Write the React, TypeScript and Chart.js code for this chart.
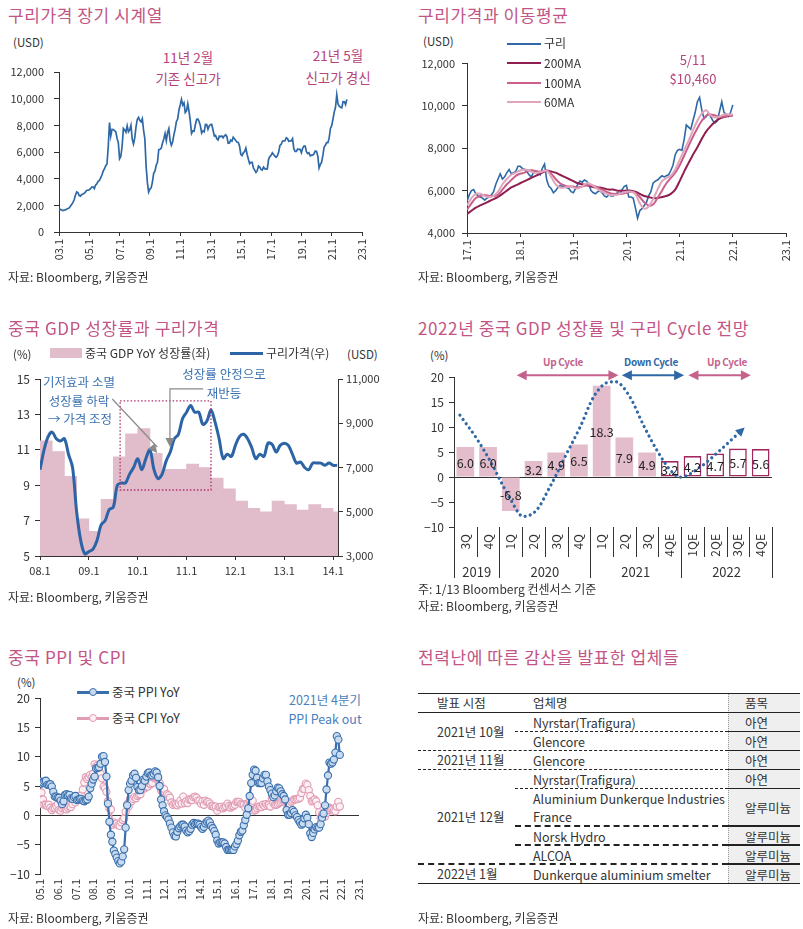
import React, { useEffect, useRef } from "react";
import { Chart, registerables } from "chart.js";
Chart.register(...registerables);

const FONT = "'Noto Sans CJK KR', 'Noto Sans', sans-serif";
Chart.defaults.font.family = FONT;
Chart.defaults.font.size = 11;
Chart.defaults.color = "#333";

const TITLE_COLOR = "#c25585";
const ANNOT_PINK = "#b8437c";
const BLUE = "#2f68a6";
const AXIS = "#333";

// ---------- Panel 1: long-term copper (monthly, 2003.01 ~ 2022.01) ----------
const longStartYear = 2003;
const longCopper = [
  1680, 1700, 1660, 1600, 1640, 1660, 1700, 1760, 1790, 1930, 2060, 2200,
  2420, 2760, 3000, 2950, 2730, 2690, 2810, 2850, 2900, 3010, 3130, 3140,
  3170, 3250, 3380, 3390, 3250, 3520, 3620, 3800, 3860, 4060, 4270, 4580,
  4730, 4980, 5100, 6380, 8200, 7200, 7700, 7690, 7600, 7500, 7030, 6680,
  5500, 5680, 6450, 7770, 7660, 7480, 7970, 7510, 7650, 8000, 6970, 6600,
  7060, 7890, 8440, 8600, 8380, 8260, 8500, 7630, 6990, 4930, 3720, 3000,
  3220, 3310, 3750, 4410, 4570, 5010, 5220, 6170, 6200, 6290, 6680, 6980,
  7390, 6850, 7460, 7750, 6840, 6500, 6750, 7280, 7710, 8290, 8470, 9150,
  9530, 9950, 9530, 9690, 8960, 9080, 9620, 9040, 8310, 7390, 7580, 7560,
  8040, 8440, 8470, 8290, 7960, 7420, 7580, 7510, 8070, 8060, 7710, 7960,
  8050, 8060, 7650, 7200, 7250, 7000, 6900, 7190, 7160, 7200, 7070, 7220,
  7290, 7150, 6650, 6670, 6890, 6820, 7110, 7000, 6870, 6740, 6710, 6450,
  5830, 5730, 5940, 6040, 6290, 5830, 5460, 5130, 5220, 5220, 4800, 4640,
  4470, 4600, 4950, 4870, 4690, 4640, 4860, 4750, 4720, 4730, 5450, 5660,
  5750, 5940, 5820, 5690, 5600, 5720, 5990, 6490, 6580, 6810, 6830, 6840,
  7070, 7000, 6800, 6840, 6830, 7000, 6250, 6050, 6050, 6220, 6190, 6200,
  5940, 6280, 6440, 6440, 6030, 5880, 5940, 5710, 5760, 5760, 5860, 6080,
  6050, 5690, 4800, 5060, 5240, 5740, 6370, 6500, 6700, 6700, 7060, 7770,
  7970, 8470, 8990, 9340, 10300, 9610, 9430, 9360, 9320, 9780, 9770, 9550,
  9950,
];
const longTickValues = [2003, 2005, 2007, 2009, 2011, 2013, 2015, 2017, 2019, 2021, 2023];
const longTickLabels = ["03.1", "05.1", "07.1", "09.1", "11.1", "13.1", "15.1", "17.1", "19.1", "21.1", "23.1"];
const longYTicks = [0, 2000, 4000, 6000, 8000, 10000, 12000];

// ---------- Panel 2: copper & moving averages ----------
const maStartYear = 2017;
const maCopperSemiMonthly = [
  5500, 5800, 6000, 6050, 5850, 5750, 5700, 5650, 5550, 5650, 5700, 5800, 5950, 6300, 6550, 6800, 6550, 6650, 6850, 7000, 6800, 6850, 6900, 7150,
  7150, 7050, 7000, 6900, 6750, 6650, 6850, 6900, 6850, 6750, 7050, 7250, 6500, 6200, 6100, 5900, 6000, 6150, 6250, 6200, 6200, 6150, 6100, 5950,
  5900, 6100, 6300, 6450, 6400, 6500, 6450, 6300, 6000, 5900, 5850, 5950, 6000, 5900, 5750, 5700, 5800, 5750, 5750, 5850, 5900, 5850, 6050, 6200,
  6250, 5700, 5700, 5650, 5200, 4700, 5050, 5150, 5300, 5450, 5750, 5950, 6350, 6450, 6500, 6600, 6700, 6650, 6700, 6750, 6950, 7200, 7700, 7900,
  7950, 7900, 8400, 9100, 9000, 8900, 9300, 9700, 10200, 10400, 9800, 9400, 9500, 9650, 9500, 9300, 9200, 9300, 9750, 10200, 9700, 9600, 9500, 9700,
  10050,
];
const ma200 = [
  4900, 5050, 5200, 5300, 5400, 5500, 5600, 5700, 5850, 6000, 6150, 6250,
  6350, 6450, 6550, 6650, 6750, 6850, 6950, 6900, 6850, 6750, 6650, 6550,
  6450, 6350, 6300, 6250, 6200, 6150, 6150, 6100, 6050, 6050, 6000, 6000,
  6000, 6000, 5950, 5850, 5750, 5700, 5650, 5650, 5700, 5750, 5850, 6050,
  6450, 6900, 7300, 7700, 8050, 8450, 8800, 9050, 9250, 9400, 9480, 9530,
  9550,
];
const ma100 = [
  5100, 5400, 5650, 5750, 5800, 5750, 5750, 5800, 6050, 6300, 6500, 6700,
  6800, 6850, 6950, 6950, 6900, 6900, 6950, 6800, 6550, 6350, 6250, 6200,
  6200, 6150, 6200, 6250, 6250, 6200, 6100, 6000, 5900, 5850, 5850, 5850,
  5900, 5950, 5900, 5700, 5450, 5300, 5350, 5650, 6000, 6350, 6600, 6850,
  7200, 7650, 8100, 8550, 8950, 9300, 9550, 9600, 9550, 9500, 9500, 9550,
  9550,
];
const ma60 = [
  5300, 5650, 5850, 5850, 5750, 5700, 5750, 5950, 6300, 6550, 6750, 6850,
  6950, 7000, 6950, 6850, 6850, 6900, 6950, 6650, 6300, 6150, 6150, 6200,
  6150, 6100, 6200, 6350, 6300, 6150, 6000, 5900, 5800, 5800, 5800, 5900,
  5950, 5950, 5850, 5400, 5150, 5250, 5600, 6050, 6450, 6600, 6700, 7000,
  7450, 7900, 8350, 8850, 9300, 9650, 9800, 9550, 9450, 9500, 9600, 9600,
  9600,
];
const maTickValues = [2017, 2018, 2019, 2020, 2021, 2022, 2023];
const maTickLabels = ["17.1", "18.1", "19.1", "20.1", "21.1", "22.1", "23.1"];
const maYTicks = [4000, 6000, 8000, 10000, 12000];

// ---------- Panel 3: China GDP vs copper ----------
const gdpCuStartYear = 2008;
const chinaGdpQuarterly = [11.5, 10.9, 9.5, 7.1, 6.4, 8.2, 10.6, 11.9, 12.2, 10.8, 9.9, 9.9, 10.2, 10.0, 9.4, 8.8, 8.1, 7.7, 7.5, 8.1, 7.9, 7.6, 7.9, 7.7, 7.5];
const copperMonthly0814 = [
  6900, 7800, 8400, 8600, 8300, 8200, 8300, 7600, 7000, 5000, 3700, 3100,
  3200, 3300, 3700, 4400, 4600, 5100, 5200, 6200, 6300, 6300, 6700, 7000,
  7400, 6900, 7400, 7800, 6900, 6500, 6700, 7300, 7700, 8300, 8500, 9200,
  9500, 9800, 9500, 9500, 8950, 9100, 9600, 9050, 8300, 7400, 7600, 7500,
  8000, 8400, 8500, 8300, 7900, 7400, 7600, 7500, 8100, 8050, 7700, 8000,
  8100, 8000, 7600, 7200, 7250, 7000, 6900, 7200, 7200, 7200, 7100, 7200,
  7100, 7100,
];
const gdpCuTickValues = [2008, 2009, 2010, 2011, 2012, 2013, 2014];
const gdpCuTickLabels = ["08.1", "09.1", "10.1", "11.1", "12.1", "13.1", "14.1"];
const gdpLeftTicks = [5, 7, 9, 11, 13, 15];
const gdpRightTicks = [3000, 5000, 7000, 9000, 11000];
// annotations (data units)
const boxX = [2009.64, 2011.5];
const boxY = [13.76, 8.73];
const arrow1X = [2009.48, 2010.4];
const arrow1Y = [13.87, 10.82];
const arrow2X = [2011.34, 2010.66, 2010.66];
const arrow2Y = [14.44, 14.44, 11.16];

// ---------- Panel 4: 2022 GDP & copper cycle ----------
const gdpQuarters = ["3Q", "4Q", "1Q", "2Q", "3Q", "4Q", "1Q", "2Q", "3Q", "4QE", "1QE", "2QE", "3QE", "4QE"];
const gdpForecast = [6.0, 6.0, -6.8, 3.2, 4.9, 6.5, 18.3, 7.9, 4.9, 3.2, 4.2, 4.7, 5.7, 5.6];
const gdpEstimateFrom = 9;
const gdpYears = ["2019", "2020", "2021", "2022"];
const gdpYearSpans = [2, 4, 4, 4];
const cycleX = [-0.24, 0.5, 1.23, 1.45, 1.97, 2.55, 3.14, 3.73, 3.95, 4.46, 5.05, 5.64, 6.23, 6.6, 7.25, 7.84, 8.43, 9.02, 9.46, 10.34, 11.22, 12.17];
const cycleY = [12.4, 7.7, 2.1, 0.1, -4.3, -7.9, -6.6, -1.9, 0.0, 4.7, 10.0, 16.0, 18.9, 19.1, 16.0, 10.4, 5.4, 1.4, 0.0, 2.0, 5.4, 9.4];
const cycleArrows = [
  { from: 2.26, to: 6.74, color: "#c4628c" },
  { from: 6.89, to: 9.63, color: "#2f68a6" },
  { from: 9.82, to: 12.57, color: "#c4628c" },
];
const cycleArrowLevel = 20.4;
const gdpYTicks = [-10, -5, 0, 5, 10, 15, 20];

// ---------- Panel 5: China PPI & CPI (monthly 2005.01 ~ 2021.12) ----------
const priceStartYear = 2005;
const chinaPpi = [
  5.8, 5.4, 5.6, 5.8, 5.9, 5.2, 5.2, 5.3, 4.9, 4.0, 3.2, 3.2,
  3.0, 3.0, 2.5, 1.9, 2.4, 3.5, 3.6, 3.4, 3.5, 2.9, 2.8, 3.1,
  3.3, 2.6, 2.7, 2.8, 2.8, 2.5, 2.4, 2.6, 2.7, 3.2, 4.6, 5.4,
  6.1, 6.6, 8.0, 8.1, 8.2, 8.8, 10.0, 10.1, 9.1, 6.6, 2.0, -1.1,
  -3.3, -4.5, -6.0, -6.6, -7.2, -7.8, -8.2, -7.9, -7.0, -5.8, -2.1, 1.7,
  4.3, 5.4, 5.9, 6.8, 7.1, 6.4, 4.8, 4.3, 4.3, 5.0, 6.1, 5.9,
  6.6, 7.2, 7.3, 6.8, 6.8, 7.1, 7.5, 7.3, 6.5, 5.0, 2.7, 1.7,
  0.7, 0.0, -0.3, -0.7, -1.4, -2.1, -2.9, -3.5, -3.6, -2.8, -2.2, -1.9,
  -1.6, -1.6, -1.9, -2.6, -2.9, -2.7, -2.3, -1.6, -1.3, -1.5, -1.4, -1.4,
  -1.6, -2.0, -2.3, -2.0, -1.4, -1.1, -0.9, -1.2, -1.8, -2.2, -2.7, -3.3,
  -4.3, -4.8, -4.6, -4.6, -4.6, -4.8, -5.4, -5.9, -5.9, -5.9, -5.9, -5.9,
  -5.3, -4.9, -4.3, -3.4, -2.8, -2.6, -1.7, -0.8, 0.1, 1.2, 3.3, 5.5,
  6.9, 7.8, 7.6, 6.4, 5.5, 5.5, 5.5, 6.3, 6.9, 6.9, 5.8, 4.9,
  4.3, 3.7, 3.1, 3.4, 4.1, 4.7, 4.6, 4.1, 3.6, 3.3, 2.7, 0.9,
  0.1, 0.1, 0.4, 0.9, 0.6, 0.0, -0.3, -0.8, -1.2, -1.6, -1.4, -0.5,
  0.1, -0.4, -1.5, -3.1, -3.7, -3.0, -2.4, -2.0, -2.1, -2.1, -1.5, -0.4,
  0.3, 1.7, 4.4, 6.8, 9.0, 8.8, 9.0, 9.5, 10.7, 13.5, 12.9, 10.3,
];
const chinaCpi = [
  1.9, 3.9, 2.7, 1.8, 1.8, 1.6, 1.8, 1.3, 0.9, 1.2, 1.3, 1.6,
  1.9, 0.9, 0.8, 1.2, 1.4, 1.5, 1.0, 1.3, 1.5, 1.4, 1.9, 2.8,
  2.2, 2.7, 3.3, 3.0, 3.4, 4.4, 5.6, 6.5, 6.2, 6.5, 6.9, 6.5,
  7.1, 8.7, 8.3, 8.5, 7.7, 7.1, 6.3, 4.9, 4.6, 4.0, 2.4, 1.2,
  1.0, -1.6, -1.2, -1.5, -1.4, -1.7, -1.8, -1.2, -0.8, -0.5, 0.6, 1.9,
  1.5, 2.7, 2.4, 2.8, 3.1, 2.9, 3.3, 3.5, 3.6, 4.4, 5.1, 4.6,
  4.9, 4.9, 5.4, 5.3, 5.5, 6.4, 6.5, 6.2, 6.1, 5.5, 4.2, 4.1,
  4.5, 3.2, 3.6, 3.4, 3.0, 2.2, 1.8, 2.0, 1.9, 1.7, 2.0, 2.5,
  2.0, 3.2, 2.1, 2.4, 2.1, 2.7, 2.7, 2.6, 3.1, 3.2, 3.0, 2.5,
  2.5, 2.0, 2.4, 1.8, 2.5, 2.3, 2.3, 2.0, 1.6, 1.6, 1.4, 1.5,
  0.8, 1.4, 1.4, 1.5, 1.2, 1.4, 1.6, 2.0, 1.6, 1.3, 1.5, 1.6,
  1.8, 2.3, 2.3, 2.3, 2.0, 1.9, 1.8, 1.3, 1.9, 2.1, 2.3, 2.1,
  2.5, 0.8, 0.9, 1.2, 1.5, 1.5, 1.4, 1.8, 1.6, 1.9, 1.7, 1.8,
  1.5, 2.9, 2.1, 1.8, 1.8, 1.9, 2.1, 2.3, 2.5, 2.5, 2.2, 1.9,
  1.7, 1.5, 2.3, 2.5, 2.7, 2.7, 2.8, 2.8, 3.0, 3.8, 4.5, 4.5,
  5.4, 5.2, 4.3, 3.3, 2.4, 2.5, 2.7, 2.4, 1.7, 0.5, -0.5, 0.2,
  -0.3, -0.2, 0.4, 0.9, 1.3, 1.1, 1.0, 0.8, 0.7, 1.5, 2.3, 1.5,
];
const priceTickValues = [2005, 2006, 2007, 2008, 2009, 2010, 2011, 2012, 2013, 2014, 2015, 2016, 2017, 2018, 2019, 2020, 2021, 2022, 2023];
const priceTickLabels = ["05.1", "06.1", "07.1", "08.1", "09.1", "10.1", "11.1", "12.1", "13.1", "14.1", "15.1", "16.1", "17.1", "18.1", "19.1", "20.1", "21.1", "22.1", "23.1"];
const priceYTicks = [-10, -5, 0, 5, 10, 15, 20];

// ---------- Panel 6: table ----------
const tableRows = [
  { period: "2021년 10월", company: "Nyrstar(Trafigura)", item: "아연" },
  { period: "", company: "Glencore", item: "아연" },
  { period: "2021년 11월", company: "Glencore", item: "아연" },
  { period: "2021년 12월", company: "Nyrstar(Trafigura)", item: "아연" },
  { period: "", company: "Aluminium Dunkerque Industries|France", item: "알루미늄" },
  { period: "", company: "Norsk Hydro", item: "알루미늄" },
  { period: "", company: "ALCOA", item: "알루미늄" },
  { period: "2022년 1월", company: "Dunkerque aluminium smelter", item: "알루미늄" },
];

// ---------- helpers ----------
const fmtNum = (v: number) => Number(v).toLocaleString("en-US");
const fmtMinus = (v: number) => (v < 0 ? "−" + Math.abs(v) : String(v));
const monthly = (start: number, arr: number[], perYear = 12) => arr.map((v, i) => ({ x: start + i / perYear, y: v }));
const setTicks = (vals: number[]) => (s: any) => {
  s.ticks = vals.map((v) => ({ value: v }));
};
const basePlugins = { legend: { display: false }, tooltip: { enabled: false } };

function arrowHead(ctx: CanvasRenderingContext2D, fx: number, fy: number, tx: number, ty: number, len: number, hw: number, color: string) {
  const a = Math.atan2(ty - fy, tx - fx);
  ctx.save();
  ctx.fillStyle = color;
  ctx.beginPath();
  ctx.moveTo(tx, ty);
  ctx.lineTo(tx - len * Math.cos(a) + hw * Math.sin(a), ty - len * Math.sin(a) - hw * Math.cos(a));
  ctx.lineTo(tx - len * Math.cos(a) - hw * Math.sin(a), ty - len * Math.sin(a) + hw * Math.cos(a));
  ctx.closePath();
  ctx.fill();
  ctx.restore();
}

function makeChart1(): any {
  return {
    type: "line",
    data: { datasets: [{ data: monthly(longStartYear, longCopper), borderColor: BLUE, borderWidth: 1.7, pointRadius: 0, tension: 0 }] },
    options: {
      animation: false,
      responsive: false,
      layout: { padding: { top: 17, right: 38, left: 0, bottom: 0 } },
      plugins: basePlugins,
      scales: {
        x: {
          type: "linear", min: 2003, max: 2023,
          afterBuildTicks: setTicks(longTickValues),
          afterFit: (s: any) => { s.height = 38; },
          ticks: { autoSkip: false, minRotation: 90, maxRotation: 90, padding: 3, callback: (_v: any, i: number) => longTickLabels[i] },
          grid: { drawOnChartArea: false, tickLength: 4, color: AXIS },
          border: { color: AXIS },
        },
        y: {
          min: 0, max: 12000,
          afterBuildTicks: setTicks(longYTicks),
          afterFit: (s: any) => { s.width = 59; },
          ticks: { padding: 10, callback: (v: any) => fmtNum(v) },
          grid: { drawOnChartArea: false, tickLength: 5, color: AXIS },
          border: { color: AXIS },
        },
      },
    },
  };
}

function makeChart2(): any {
  const line = (data: any, color: string, w: number) => ({ data, borderColor: color, borderWidth: w, pointRadius: 0, tension: 0.3 });
  return {
    type: "line",
    data: {
      datasets: [
        line(monthly(maStartYear, ma60), "#dfa5bc", 2),
        line(monthly(maStartYear, ma100), "#cb5f8b", 2),
        line(monthly(maStartYear, ma200), "#8e1f50", 2),
        { ...line(monthly(maStartYear, maCopperSemiMonthly, 24), BLUE, 1.6), tension: 0 },
      ],
    },
    options: {
      animation: false,
      responsive: false,
      layout: { padding: { top: 11, right: 17, left: 0, bottom: 0 } },
      plugins: basePlugins,
      scales: {
        x: {
          type: "linear", min: 2017, max: 2023,
          afterBuildTicks: setTicks(maTickValues),
          afterFit: (s: any) => { s.height = 37; },
          ticks: { autoSkip: false, minRotation: 90, maxRotation: 90, padding: 3, callback: (_v: any, i: number) => maTickLabels[i] },
          grid: { drawOnChartArea: false, tickLength: 4, color: AXIS },
          border: { color: AXIS },
        },
        y: {
          min: 4000, max: 12000,
          afterBuildTicks: setTicks(maYTicks),
          afterFit: (s: any) => { s.width = 67; },
          ticks: { padding: 7, callback: (v: any) => fmtNum(v) },
          grid: { drawOnChartArea: false, tickLength: 5, color: AXIS },
          border: { color: AXIS },
        },
      },
    },
  };
}

const gdpCuPlugin = {
  id: "gdpCuDecor",
  afterDatasetsDraw(chart: any) {
    const { ctx, scales } = chart;
    const x = scales.x, y = scales.y;
    ctx.save();
    ctx.strokeStyle = "#b0306c";
    ctx.lineWidth = 1.3;
    ctx.setLineDash([1.5, 2]);
    const bx0 = x.getPixelForValue(boxX[0]), bx1 = x.getPixelForValue(boxX[1]);
    const by0 = y.getPixelForValue(boxY[0]), by1 = y.getPixelForValue(boxY[1]);
    ctx.strokeRect(bx0, by0, bx1 - bx0, by1 - by0);
    ctx.setLineDash([]);
    const gray = "#8a8a8a";
    ctx.strokeStyle = gray;
    ctx.lineWidth = 1.2;
    const p1 = arrow1X.map((v, i) => [x.getPixelForValue(v), y.getPixelForValue(arrow1Y[i])]);
    ctx.beginPath();
    ctx.moveTo(p1[0][0], p1[0][1]);
    ctx.lineTo(p1[1][0], p1[1][1] - 6);
    ctx.stroke();
    arrowHead(ctx, p1[0][0], p1[0][1], p1[1][0], p1[1][1], 9, 4.5, gray);
    const p2 = arrow2X.map((v, i) => [x.getPixelForValue(v), y.getPixelForValue(arrow2Y[i])]);
    ctx.beginPath();
    ctx.moveTo(p2[0][0], p2[0][1]);
    ctx.lineTo(p2[1][0], p2[1][1]);
    ctx.lineTo(p2[2][0], p2[2][1] - 6);
    ctx.stroke();
    arrowHead(ctx, p2[1][0], p2[1][1], p2[2][0], p2[2][1], 9, 4.5, gray);
    ctx.restore();
  },
};

function makeChart3(): any {
  return {
    type: "bar",
    data: {
      datasets: [
        {
          type: "line", data: monthly(gdpCuStartYear, copperMonthly0814), yAxisID: "y1",
          borderColor: "#2c64a6", borderWidth: 3, pointRadius: 0, tension: 0.35, order: 0,
        },
        {
          type: "bar", data: chinaGdpQuarterly.map((v, i) => ({ x: gdpCuStartYear + 0.125 + i * 0.25, y: v })), yAxisID: "y",
          backgroundColor: "#e1bccb", barPercentage: 1, categoryPercentage: 1, grouped: false, order: 1,
        },
      ],
    },
    options: {
      animation: false,
      responsive: false,
      layout: { padding: { top: 14, right: 0, left: 0, bottom: 0 } },
      plugins: basePlugins,
      scales: {
        x: {
          type: "linear", min: 2008, max: 2014.1, offset: false,
          afterBuildTicks: setTicks(gdpCuTickValues),
          afterFit: (s: any) => { s.height = 29; },
          ticks: { autoSkip: false, maxRotation: 0, minRotation: 0, padding: 4, callback: (_v: any, i: number) => gdpCuTickLabels[i] },
          grid: { drawOnChartArea: false, tickLength: 4, color: AXIS, offset: false },
          border: { color: AXIS },
        },
        y: {
          min: 5, max: 15, position: "left",
          afterBuildTicks: setTicks(gdpLeftTicks),
          afterFit: (s: any) => { s.width = 40; },
          ticks: { padding: 5, font: { size: 12 } },
          grid: { drawOnChartArea: false, tickLength: 5, color: AXIS },
          border: { color: AXIS },
        },
        y1: {
          min: 3000, max: 11000, position: "right",
          afterBuildTicks: setTicks(gdpRightTicks),
          afterFit: (s: any) => { s.width = 62; },
          ticks: { padding: 3, callback: (v: any) => fmtNum(v) },
          grid: { drawOnChartArea: false, tickLength: 5, color: AXIS },
          border: { color: AXIS },
        },
      },
    },
    plugins: [gdpCuPlugin],
  };
}

const cyclePlugin = {
  id: "cycleDecor",
  afterDatasetsDraw(chart: any) {
    const { ctx, chartArea: ca, scales } = chart;
    const x = scales.x, y = scales.y, x2 = scales.x2;
    ctx.save();
    const n = cycleX.length;
    const ax = x2.getPixelForValue(cycleX[n - 1]), ay = y.getPixelForValue(cycleY[n - 1]);
    const bx = x2.getPixelForValue(cycleX[n - 2]), by = y.getPixelForValue(cycleY[n - 2]);
    const ang = Math.atan2(ay - by, ax - bx);
    arrowHead(ctx, bx, by, ax + 4 * Math.cos(ang), ay + 4 * Math.sin(ang), 9, 4.5, BLUE);
    const meta = chart.getDatasetMeta(1);
    ctx.font = `12.5px ${FONT}`;
    ctx.fillStyle = "#222";
    ctx.textAlign = "center";
    ctx.textBaseline = "middle";
    meta.data.forEach((bar: any, i: number) => {
      ctx.fillText(gdpForecast[i].toFixed(1), bar.x, (bar.y + bar.base) / 2 + 1);
    });
    const yy = y.getPixelForValue(cycleArrowLevel);
    cycleArrows.forEach((a) => {
      const p0 = x.getPixelForValue(a.from), p1 = x.getPixelForValue(a.to);
      ctx.strokeStyle = a.color;
      ctx.lineWidth = 2;
      ctx.beginPath();
      ctx.moveTo(p0 + 6, yy);
      ctx.lineTo(p1 - 6, yy);
      ctx.stroke();
      arrowHead(ctx, p1, yy, p0, yy, 10, 5, a.color);
      arrowHead(ctx, p0, yy, p1, yy, 10, 5, a.color);
    });
    ctx.strokeStyle = AXIS;
    ctx.lineWidth = 1;
    const groupBounds = [0];
    gdpYearSpans.reduce((acc, s) => { groupBounds.push(acc + s); return acc + s; }, 0);
    for (let b = 0; b <= gdpQuarters.length; b++) {
      const px = Math.round(x.getPixelForValue(b - 0.5)) + 0.5;
      const long = groupBounds.includes(b);
      ctx.beginPath();
      ctx.moveTo(px, ca.bottom);
      ctx.lineTo(px, ca.bottom + (long ? 51 : 30));
      ctx.stroke();
    }
    ctx.font = `13px ${FONT}`;
    ctx.fillStyle = "#333";
    let start = 0;
    gdpYears.forEach((yr, k) => {
      const c = start + gdpYearSpans[k] / 2 - 0.5;
      ctx.fillText(yr, x.getPixelForValue(c), ca.bottom + 45);
      start += gdpYearSpans[k];
    });
    ctx.restore();
  },
};

function makeChart4(): any {
  return {
    type: "bar",
    data: {
      labels: gdpQuarters,
      datasets: [
        {
          type: "line", xAxisID: "x2", data: cycleX.map((v, i) => ({ x: v, y: cycleY[i] })),
          borderColor: BLUE, borderWidth: 3.2, borderDash: [0.01, 5.3], borderCapStyle: "round",
          pointRadius: 0, tension: 0.4, cubicInterpolationMode: "monotone", order: 0,
        },
        {
          type: "bar", data: gdpForecast,
          backgroundColor: gdpForecast.map((_, i) => (i >= gdpEstimateFrom ? "#ffffff" : "#e3bdcc")),
          borderColor: gdpForecast.map((_, i) => (i >= gdpEstimateFrom ? "#a1285d" : "rgba(0,0,0,0)")),
          borderWidth: gdpForecast.map((_, i) => (i >= gdpEstimateFrom ? 1.6 : 0)),
          borderSkipped: false, barPercentage: 0.78, categoryPercentage: 1, grouped: false, order: 1,
        },
      ],
    },
    options: {
      animation: false,
      responsive: false,
      layout: { padding: { top: 12, right: 31, left: 0, bottom: 0 } },
      plugins: basePlugins,
      scales: {
        x: {
          type: "category", offset: true,
          afterFit: (s: any) => { s.height = 58; },
          ticks: { autoSkip: false, minRotation: 90, maxRotation: 90, padding: 7, font: { size: 12 } },
          grid: { display: false, drawTicks: false },
          border: { display: false },
        },
        x2: { type: "linear", min: -0.5, max: 13.5, offset: false, display: false, grid: { offset: false } },
        y: {
          min: -10, max: 20,
          afterBuildTicks: setTicks(gdpYTicks),
          afterFit: (s: any) => { s.width = 54; },
          ticks: { padding: 5, font: { size: 12 }, callback: (v: any) => fmtMinus(v) },
          grid: { drawOnChartArea: true, tickLength: 5, tickColor: AXIS, color: (c: any) => (c.tick && c.tick.value === 0 ? AXIS : "rgba(0,0,0,0)") },
          border: { color: AXIS },
        },
      },
    },
    plugins: [cyclePlugin],
  };
}

function makeChart5(): any {
  return {
    type: "line",
    data: {
      datasets: [
        {
          data: monthly(priceStartYear, chinaPpi), borderColor: "#3a6fad", borderWidth: 2.2,
          pointRadius: 3.6, pointBackgroundColor: "#c8dbef", pointBorderColor: "#3a6fad", pointBorderWidth: 1.1, tension: 0,
        },
        {
          data: monthly(priceStartYear, chinaCpi), borderColor: "#e09cb4", borderWidth: 2,
          pointRadius: 3.6, pointBackgroundColor: "#fcf0f4", pointBorderColor: "#e09cb4", pointBorderWidth: 1.1, tension: 0,
        },
      ],
    },
    options: {
      animation: false,
      responsive: false,
      layout: { padding: { top: 18, right: 41, left: 0, bottom: 0 } },
      plugins: basePlugins,
      scales: {
        x: {
          type: "linear", min: 2005, max: 2023,
          afterBuildTicks: setTicks(priceTickValues),
          afterFit: (s: any) => { s.height = 36; },
          ticks: { autoSkip: false, minRotation: 90, maxRotation: 90, padding: 5, callback: (_v: any, i: number) => priceTickLabels[i] },
          grid: { display: false, drawTicks: false },
          border: { display: false },
        },
        y: {
          min: -10, max: 20,
          afterBuildTicks: setTicks(priceYTicks),
          afterFit: (s: any) => { s.width = 40; },
          ticks: { padding: 5, font: { size: 12 }, callback: (v: any) => fmtMinus(v) },
          grid: { drawOnChartArea: true, tickLength: 5, tickColor: AXIS, color: (c: any) => (c.tick && c.tick.value === 0 ? AXIS : "rgba(0,0,0,0)") },
          border: { color: AXIS },
        },
      },
    },
  };
}

function ChartBox({ left, top, width, height, make }: any) {
  const ref = useRef<HTMLCanvasElement>(null);
  useEffect(() => {
    const chart = new Chart(ref.current as HTMLCanvasElement, make());
    return () => chart.destroy();
  }, []);
  return <canvas ref={ref} width={width} height={height} style={{ position: "absolute", left, top, width, height }} />;
}

function Txt({ x, y, size = 12, color = "#333", align = "left", weight = 400, ls = 0, children }: any) {
  const tx = align === "center" ? "-50%" : align === "right" ? "-100%" : "0";
  return (
    <div
      style={{
        position: "absolute", left: x, top: y, transform: `translate(${tx}, -50%)`, fontSize: size, color,
        fontWeight: weight, letterSpacing: ls, whiteSpace: "nowrap", lineHeight: 1.2,
      }}
    >
      {children}
    </div>
  );
}

function HLine({ x1, x2, y, w = 1, dashed = false, color = "#222" }: any) {
  return (
    <div style={{ position: "absolute", left: x1, top: y - w / 2, width: x2 - x1, height: 0, borderTop: `${w}px ${dashed ? "dashed" : "solid"} ${color}` }} />
  );
}

function Title({ x, y, children }: any) {
  return <Txt x={x} y={y} size={17} color={TITLE_COLOR} ls={0.6}>{children}</Txt>;
}

const SOURCE = "자료: Bloomberg, 키움증권";

function LegendLine({ x, y, w, color, thick = 2.5 }: any) {
  return <div style={{ position: "absolute", left: x, top: y - thick / 2, width: w, height: thick, background: color }} />;
}

function LegendMarker({ x, y, w, color, fill }: any) {
  return (
    <>
      <div style={{ position: "absolute", left: x, top: y - 1.5, width: w, height: 3, background: color }} />
      <div style={{ position: "absolute", left: x + w / 2 - 4.5, top: y - 4.5, width: 6.8, height: 6.8, borderRadius: "50%", border: `1.1px solid ${color}`, background: fill }} />
    </>
  );
}

function Table() {
  const L = 418, R = 800, C2 = 515, C3 = 728;
  const rowY = [712, 731, 750, 769, 788, 826, 845, 864, 883];
  const rowLines = [
    { y: 731, x1: C2, w: 1 },
    { y: 750, x1: L, w: 1 },
    { y: 769, x1: L, w: 1 },
    { y: 788, x1: C2, w: 1 },
    { y: 826, x1: C2, w: 2 },
    { y: 845, x1: C2, w: 2 },
    { y: 864, x1: L, w: 2 },
  ];
  const periods = [
    { t: "2021년 10월", y: 731 },
    { t: "2021년 11월", y: 759 },
    { t: "2021년 12월", y: 816 },
    { t: "2022년 1월", y: 873 },
  ];
  return (
    <>
      <div style={{ position: "absolute", left: C3, top: 693, width: R - C3, height: 883 - 693, background: "#efefef" }} />
      <div style={{ position: "absolute", left: C3, top: 693, width: 0, height: 883 - 693, borderLeft: "1px dotted #999" }} />
      <HLine x1={L} x2={R} y={693} />
      <HLine x1={L} x2={R} y={712} />
      <HLine x1={L} x2={R} y={883} />
      {rowLines.map((l, i) => (
        <React.Fragment key={i}>
          <HLine x1={l.x1} x2={C3} y={l.y} w={l.w} dashed />
          <HLine x1={C3} x2={R} y={l.y} w={l.w} />
        </React.Fragment>
      ))}
      <Txt x={437} y={702} size={12.5}>발표 시점</Txt>
      <Txt x={533} y={702} size={12.5}>업체명</Txt>
      <Txt x={745} y={702} size={12.5}>품목</Txt>
      {periods.map((p, i) => (
        <Txt key={i} x={437} y={p.y} size={12.5}>{p.t}</Txt>
      ))}
      {tableRows.map((r, i) => {
        const cy = (rowY[i] + rowY[i + 1]) / 2;
        const parts = r.company.split("|");
        return (
          <React.Fragment key={i}>
            {parts.length === 1 ? (
              <Txt x={533} y={cy} size={12.5}>{parts[0]}</Txt>
            ) : (
              <>
                <Txt x={533} y={cy - 9} size={12.5}>{parts[0]}</Txt>
                <Txt x={533} y={cy + 9} size={12.5}>{parts[1]}</Txt>
              </>
            )}
            <Txt x={745} y={cy} size={12.5}>{r.item}</Txt>
          </React.Fragment>
        );
      })}
    </>
  );
}

export default function App() {
  return (
    <div style={{ position: "absolute", left: 0, top: 0, width: 803, height: 929, background: "#fff", fontFamily: FONT, color: "#333", overflow: "hidden" }}>
      {/* Panel 1 */}
      <Title x={8} y={15}>구리가격 장기 시계열</Title>
      <Txt x={13} y={43} size={11.5}>(USD)</Txt>
      <Txt x={188} y={57} size={13.5} color={ANNOT_PINK} align="center">11년 2월</Txt>
      <Txt x={188} y={78} size={13.5} color={ANNOT_PINK} align="center">기존 신고가</Txt>
      <Txt x={338} y={55} size={13.5} color={ANNOT_PINK} align="center">21년 5월</Txt>
      <Txt x={338} y={77} size={13.5} color={ANNOT_PINK} align="center">신고가 경신</Txt>
      <ChartBox left={0} top={55} width={400} height={215} make={makeChart1} />
      <Txt x={8} y={277} size={12}>{SOURCE}</Txt>

      {/* Panel 2 */}
      <Title x={418} y={15}>구리가격과 이동평균</Title>
      <Txt x={423} y={42} size={11.5}>(USD)</Txt>
      <ChartBox left={400} top={50} width={403} height={220} make={makeChart2} />
      <LegendLine x={507} y={44} w={34} color={BLUE} />
      <LegendLine x={507} y={63} w={34} color="#8e1f50" />
      <LegendLine x={507} y={83} w={34} color="#cb5f8b" />
      <LegendLine x={507} y={102} w={34} color="#dfa5bc" />
      <Txt x={544} y={43} size={12}>구리</Txt>
      <Txt x={544} y={63} size={12}>200MA</Txt>
      <Txt x={544} y={83} size={12}>100MA</Txt>
      <Txt x={544} y={102} size={12}>60MA</Txt>
      <Txt x={693} y={60} size={13} color={ANNOT_PINK} align="center">5/11</Txt>
      <Txt x={693} y={79} size={13} color={ANNOT_PINK} align="center">$10,460</Txt>
      <Txt x={418} y={277} size={12}>{SOURCE}</Txt>

      {/* Panel 3 */}
      <Title x={8} y={328}>중국 GDP 성장률과 구리가격</Title>
      <Txt x={13} y={355} size={11.5}>(%)</Txt>
      <Txt x={347} y={355} size={11.5}>(USD)</Txt>
      <div style={{ position: "absolute", left: 50, top: 348, width: 32, height: 10, background: "#e1bccb" }} />
      <Txt x={85} y={353} size={12}>중국 GDP YoY 성장률(좌)</Txt>
      <LegendLine x={230} y={353} w={33} color="#2c64a6" thick={3} />
      <Txt x={266} y={353} size={12}>구리가격(우)</Txt>
      <ChartBox left={0} top={365} width={400} height={220} make={makeChart3} />
      <Txt x={79} y={381} size={12.5} color="#3b73b1" align="center">기저효과 소멸</Txt>
      <Txt x={79} y={400} size={12.5} color="#3b73b1" align="center">성장률 하락</Txt>
      <Txt x={80} y={418} size={12.5} color="#3b73b1" align="center">→ 가격 조정</Txt>
      <Txt x={224} y={373} size={12.5} color="#3b73b1" align="center">성장률 안정으로</Txt>
      <Txt x={224} y={392} size={12.5} color="#3b73b1" align="center">재반등</Txt>
      <Txt x={8} y={597} size={12}>{SOURCE}</Txt>

      {/* Panel 4 */}
      <Title x={418} y={328}>2022년 중국 GDP 성장률 및 구리 Cycle 전망</Title>
      <Txt x={430} y={356} size={11.5}>(%)</Txt>
      <Txt x={563} y={362} size={10} weight={700} color="#c4628c" align="center" ls={-0.3}>Up Cycle</Txt>
      <Txt x={651} y={362} size={10} weight={700} color="#2f68a6" align="center" ls={-0.3}>Down Cycle</Txt>
      <Txt x={727} y={362} size={10} weight={700} color="#c4628c" align="center" ls={-0.3}>Up Cycle</Txt>
      <ChartBox left={400} top={365} width={403} height={220} make={makeChart4} />
      <Txt x={418} y={589} size={12}>주: 1/13 Bloomberg 컨센서스 기준</Txt>
      <Txt x={418} y={606} size={12}>{SOURCE}</Txt>

      {/* Panel 5 */}
      <Title x={8} y={657}>중국 PPI 및 CPI</Title>
      <Txt x={17} y={683} size={11.5}>(%)</Txt>
      <LegendMarker x={77} y={692} w={32} color="#3a6fad" fill="#c8dbef" />
      <Txt x={112} y={691} size={12.5}>중국 PPI YoY</Txt>
      <LegendMarker x={77} y={718} w={32} color="#e09cb4" fill="#fcf0f4" />
      <Txt x={112} y={717} size={12.5}>중국 CPI YoY</Txt>
      <Txt x={325} y={699} size={12.5} color="#4a7fbd" align="center">2021년 4분기</Txt>
      <Txt x={325} y={718} size={12.5} color="#4a7fbd" align="center">PPI Peak out</Txt>
      <ChartBox left={0} top={680} width={400} height={230} make={makeChart5} />
      <Txt x={8} y={918} size={12}>{SOURCE}</Txt>

      {/* Panel 6 */}
      <Title x={418} y={657}>전력난에 따른 감산을 발표한 업체들</Title>
      <Table />
      <Txt x={418} y={918} size={12}>{SOURCE}</Txt>
    </div>
  );
}
